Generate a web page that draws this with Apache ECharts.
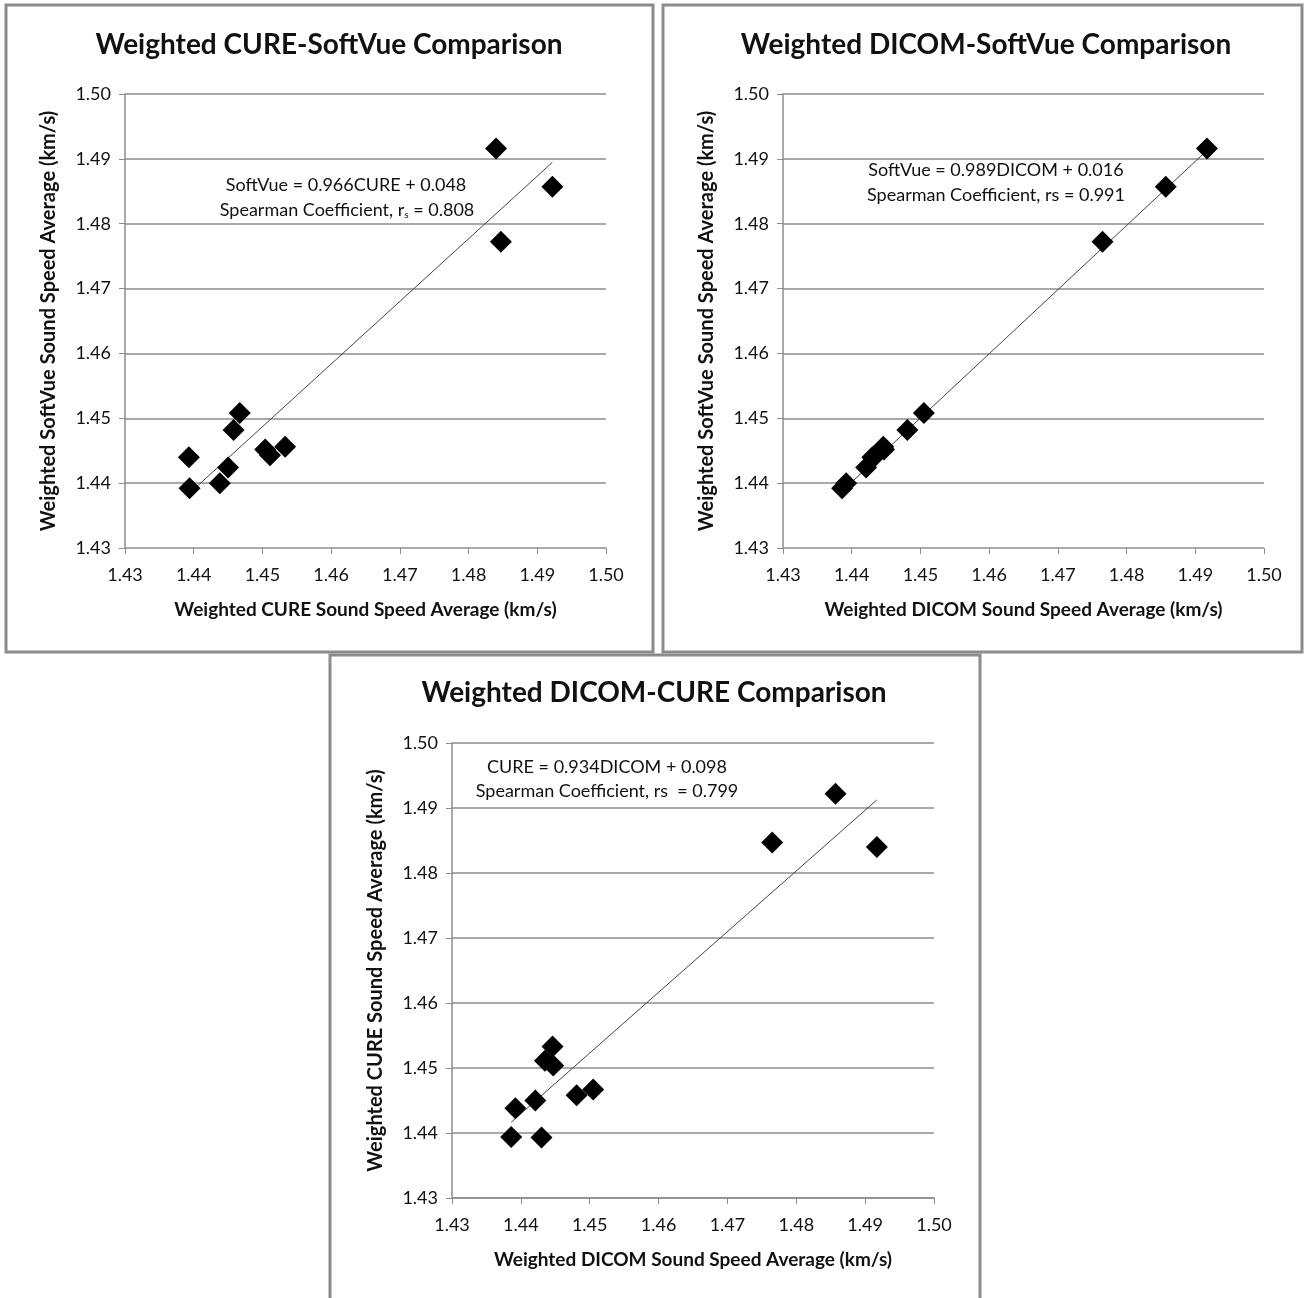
<!DOCTYPE html>
<html>
<head>
<meta charset="utf-8">
<title>Weighted sound speed comparisons</title>
<script src="https://cdn.jsdelivr.net/npm/echarts@6/dist/echarts.min.js"></script>
<style>
  html, body { margin: 0; padding: 0; background: #fff; }
  #main { width: 1307px; height: 1298px; }
</style>
</head>
<body>
<div id="main"></div>
<script>
// 每个样本的加权声速平均值 (km/s)
var cure    = [1.4394, 1.4393, 1.4438, 1.4450, 1.4458, 1.4467, 1.4504, 1.4511, 1.4533, 1.4840, 1.4922, 1.4847];
var softvue = [1.4392, 1.4440, 1.4400, 1.4424, 1.4482, 1.4508, 1.4452, 1.4443, 1.4456, 1.4916, 1.4857, 1.4772];
var dicom   = [1.4386, 1.4430, 1.4392, 1.4421, 1.4481, 1.4505, 1.4447, 1.4435, 1.4446, 1.4917, 1.4857, 1.4765];

// 坐标轴刻度
var axisMin = 1.43, axisMax = 1.50, axisStep = 0.01;

// 趋势线 (图中给出的方程)
var fitCureSoft  = { slope: 0.966, icpt: 0.048 };
var fitDicomSoft = { slope: 0.989, icpt: 0.016 };
var fitDicomCure = { slope: 0.934, icpt: 0.098 };

var titles = ['Weighted CURE-SoftVue Comparison', 'Weighted DICOM-SoftVue Comparison', 'Weighted DICOM-CURE Comparison'];

var FONT = 'Lato, "Open Sans", sans-serif';
var GRAY = '#8c8c8c';

function pairs(xs, ys) {
    var out = [];
    for (var i = 0; i < xs.length; i++) out.push([xs[i], ys[i]]);
    return out;
}
function fitLine(xs, fit) {
    var lo = Math.min.apply(null, xs), hi = Math.max.apply(null, xs);
    return [[lo, fit.slope * lo + fit.icpt], [hi, fit.slope * hi + fit.icpt]];
}
function fmt(v) { return v.toFixed(2); }

function xAxisOf(idx, name, showLine) {
    return {
        gridIndex: idx, type: 'value', min: axisMin, max: axisMax, interval: axisStep,
        name: name, nameLocation: 'middle', nameGap: 52,
        nameTextStyle: { fontFamily: FONT, fontWeight: 'bold', fontSize: 19, color: '#111' },
        axisLine: { show: showLine, onZero: false, lineStyle: { color: GRAY, width: 1.5 } },
        axisTick: { show: true, inside: false, length: 6, lineStyle: { color: GRAY } },
        axisLabel: { formatter: fmt, fontFamily: FONT, fontSize: 18, color: '#111', margin: 18 },
        splitLine: { show: false }
    };
}
function yAxisOf(idx, name) {
    return {
        gridIndex: idx, type: 'value', min: axisMin, max: axisMax, interval: axisStep,
        name: name, nameLocation: 'middle', nameGap: 66,
        nameTextStyle: { fontFamily: FONT, fontWeight: 'bold', fontSize: 20, color: '#111' },
        axisLine: { show: true, onZero: false, lineStyle: { color: GRAY, width: 1.5 } },
        axisTick: { show: true, inside: false, length: 6, lineStyle: { color: GRAY } },
        axisLabel: { formatter: fmt, fontFamily: FONT, fontSize: 18, color: '#111', margin: 14 },
        splitLine: { show: true, lineStyle: { color: GRAY, width: 1.5 } }
    };
}
function dots(idx, data) {
    return {
        type: 'scatter', xAxisIndex: idx, yAxisIndex: idx, data: data,
        symbol: 'diamond', symbolSize: 22, itemStyle: { color: '#000', opacity: 1 }, z: 3
    };
}
function trend(idx, data) {
    return {
        type: 'line', xAxisIndex: idx, yAxisIndex: idx, data: data,
        showSymbol: false, lineStyle: { color: '#444', width: 1 }, z: 2
    };
}
function frame(x, y, w, h) {
    return { type: 'rect', shape: { x: x, y: y, width: w, height: h },
             style: { fill: null, stroke: GRAY, lineWidth: 3 }, z: 10 };
}
function label(x, y, txt, size, weight) {
    return { type: 'text', x: x, y: y, z: 10,
             style: { text: txt, fontFamily: FONT, fontSize: size, fontWeight: weight,
                      fill: '#111', align: 'center', verticalAlign: 'middle' } };
}
function noteRich(x, y, txt) {
    return { type: 'text', x: x, y: y, z: 10,
             style: { text: txt, align: 'center', verticalAlign: 'middle',
                      rich: {
                          n: { fontFamily: FONT, fontSize: 18, fill: '#111' },
                          s: { fontFamily: FONT, fontSize: 10, fill: '#111', verticalAlign: 'bottom', padding: [9, 0, 0, 0] }
                      } } };
}

var chart = echarts.init(document.getElementById('main'));
var option = {
    backgroundColor: '#fff',
    animation: false,
    grid: [
        { left: 125, top: 94, width: 481, height: 454 },
        { left: 783, top: 94, width: 481, height: 454 },
        { left: 452, top: 743, width: 482, height: 455 }
    ],
    xAxis: [
        xAxisOf(0, 'Weighted CURE Sound Speed Average (km/s)', false),
        xAxisOf(1, 'Weighted DICOM Sound Speed Average (km/s)', false),
        xAxisOf(2, 'Weighted DICOM Sound Speed Average (km/s)', true)
    ],
    yAxis: [
        yAxisOf(0, 'Weighted SoftVue Sound Speed Average (km/s)'),
        yAxisOf(1, 'Weighted SoftVue Sound Speed Average (km/s)'),
        yAxisOf(2, 'Weighted CURE Sound Speed Average (km/s)')
    ],
    series: [
        trend(0, fitLine(cure, fitCureSoft)),
        dots(0, pairs(cure, softvue)),
        trend(1, fitLine(dicom, fitDicomSoft)),
        dots(1, pairs(dicom, softvue)),
        trend(2, fitLine(dicom, fitDicomCure)),
        dots(2, pairs(dicom, cure))
    ],
    graphic: [
        frame(6, 5, 647, 647),
        frame(663, 5, 639, 647),
        frame(330, 655, 650, 660),
        label(329, 45, titles[0], 28, 'bold'),
        label(986, 45, titles[1], 28, 'bold'),
        label(654, 693, titles[2], 28, 'bold'),
        noteRich(346, 185, '{n|SoftVue = 0.966CURE + 0.048}'),
        noteRich(347, 210, '{n|Spearman Coefficient, r}{s|s}{n| = 0.808}'),
        noteRich(996, 170, '{n|SoftVue = 0.989DICOM + 0.016}'),
        noteRich(996, 195, '{n|Spearman Coefficient, rs = 0.991}'),
        noteRich(607, 767, '{n|CURE = 0.934DICOM + 0.098}'),
        noteRich(607, 791, '{n|Spearman Coefficient, rs  = 0.799}')
    ]
};
chart.setOption(option);
</script>
</body>
</html>
